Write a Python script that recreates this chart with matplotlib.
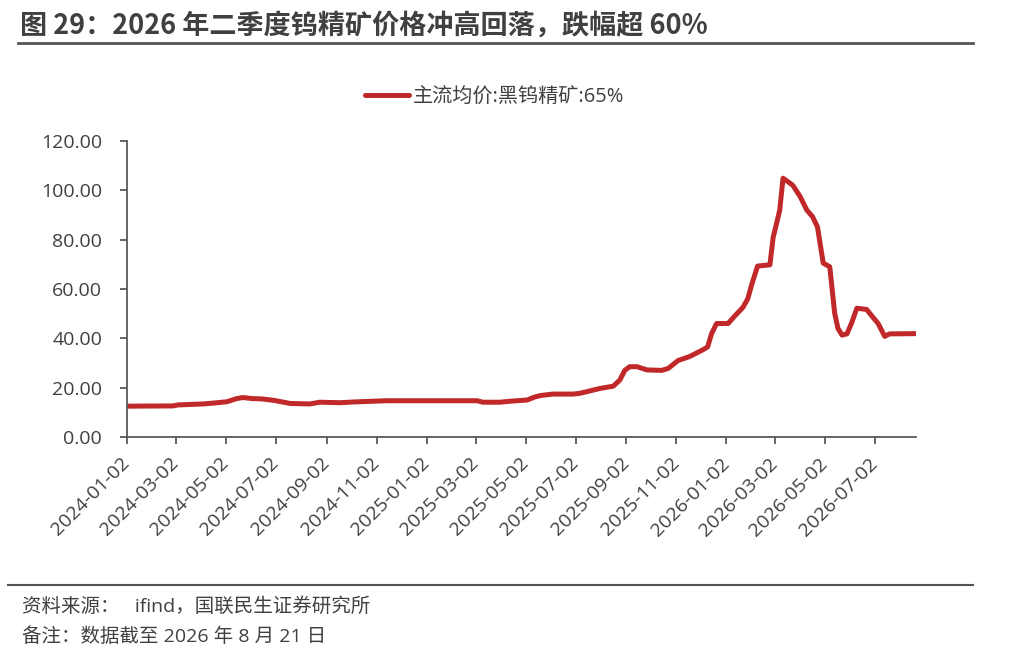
import numpy as np
import pandas as pd
import matplotlib
matplotlib.use('Agg')
import matplotlib.pyplot as plt
from matplotlib.lines import Line2D

plt.rcParams['font.family'] = ['Open Sans', 'Noto Sans CJK SC', 'DejaVu Sans']

title = '图 29：2026 年二季度钨精矿价格冲高回落，跌幅超 60%'
series_name = '主流均价:黑钨精矿:65%'
source = '资料来源：   ifind，国联民生证券研究所'
note = '备注：数据截至 2026 年 8 月 21 日'

dates = ['2024-01-02', '2024-02-27', '2024-03-04', '2024-04-04', '2024-04-18',
         '2024-05-03', '2024-05-14', '2024-05-22', '2024-06-02', '2024-06-16',
         '2024-06-30', '2024-07-19', '2024-08-12', '2024-08-24', '2024-09-18',
         '2024-10-04', '2024-11-13', '2025-03-04', '2025-03-11', '2025-04-01',
         '2025-04-13', '2025-05-04', '2025-05-13', '2025-05-20', '2025-06-04',
         '2025-06-29', '2025-07-07', '2025-07-16', '2025-08-01', '2025-08-17',
         '2025-08-25', '2025-08-31', '2025-09-06', '2025-09-15', '2025-09-27',
         '2025-10-15', '2025-10-23', '2025-11-04', '2025-11-18', '2025-12-04',
         '2025-12-10', '2025-12-15', '2025-12-21', '2026-01-04', '2026-01-12',
         '2026-01-22', '2026-01-28', '2026-02-02', '2026-02-09', '2026-02-24',
         '2026-02-28', '2026-03-03', '2026-03-08', '2026-03-12', '2026-03-18',
         '2026-03-24', '2026-04-02', '2026-04-10', '2026-04-17', '2026-04-23',
         '2026-04-30', '2026-05-08', '2026-05-14', '2026-05-18', '2026-05-23',
         '2026-05-29', '2026-06-04', '2026-06-10', '2026-06-22', '2026-06-29',
         '2026-07-06', '2026-07-14', '2026-07-20', '2026-08-21']
prices = [12.5, 12.6, 13.0, 13.4, 13.8,
          14.3, 15.5, 16.0, 15.6, 15.4,
          14.8, 13.6, 13.4, 14.1, 13.9,
          14.2, 14.7, 14.7, 14.1, 14.1,
          14.5, 15.0, 16.2, 16.8, 17.4,
          17.4, 17.7, 18.4, 19.7, 20.6,
          23.1, 27.0, 28.5, 28.5, 27.2,
          27.0, 27.8, 31.0, 32.6, 35.3,
          36.5, 42.0, 46.0, 46.0, 49.0,
          52.5, 56.0, 62.0, 69.3, 69.8,
          81.0, 85.0, 92.0, 104.9, 103.5,
          102.0, 97.4, 92.0, 89.3, 85.2,
          70.5, 69.0, 50.2, 44.0, 41.3,
          41.8, 46.5, 52.2, 51.7, 48.8,
          46.0, 40.8, 41.8, 41.9]

tick_dates = ['2024-01-02', '2024-03-02', '2024-05-02', '2024-07-02', '2024-09-02',
              '2024-11-02', '2025-01-02', '2025-03-02', '2025-05-02', '2025-07-02',
              '2025-09-02', '2025-11-02', '2026-01-02', '2026-03-02', '2026-05-02',
              '2026-07-02']

x = pd.to_datetime(dates)
red = '#C0282A'
grey = '#404040'

fig = plt.figure(figsize=(10.12, 6.72), dpi=100)
ax = fig.add_axes([0.1255, 0.3497, 0.7795, 0.4405])

ax.plot(x, prices, color=red, linewidth=3.6, solid_joinstyle='round')
ax.set_ylim(0, 120)
ax.set_yticks(np.arange(0, 121, 20))
ax.yaxis.set_major_formatter(matplotlib.ticker.FormatStrFormatter('%.2f'))
ax.set_xlim(pd.Timestamp('2024-01-02'), pd.Timestamp('2026-08-21'))
ax.set_xticks(pd.to_datetime(tick_dates))
ax.set_xticklabels(tick_dates, rotation=45, ha='right', va='center',
                   rotation_mode='anchor')

for s in ['top', 'right']:
    ax.spines[s].set_visible(False)
for s in ['left', 'bottom']:
    ax.spines[s].set_color('#595959')
    ax.spines[s].set_linewidth(1.3)
ax.tick_params(axis='both', colors='#595959', labelcolor=grey, labelsize=14,
               length=5, width=1.3, direction='out')
ax.tick_params(axis='y', pad=13)
ax.tick_params(axis='x', pad=12)

handle = Line2D([], [], color=red, linewidth=3.6, solid_capstyle='round')
ax.legend([handle], [series_name], loc='center', bbox_to_anchor=(0.466, 1.149),
          frameon=False, fontsize=14.5, handlelength=2.2, handletextpad=0.2,
          labelcolor=grey)

fig.text(0.02, 0.962, title, fontsize=19.5, fontweight='bold', color=grey,
         va='center', family=['Noto Sans CJK SC', 'DejaVu Sans'])
fig.add_artist(Line2D([0.018, 0.961], [0.936, 0.936], color='#555555', linewidth=2))
fig.add_artist(Line2D([0.008, 0.961], [0.129, 0.129], color='#555555', linewidth=1.5))
fig.text(0.022, 0.097, source, fontsize=14, color=grey, va='center')
fig.text(0.022, 0.053, note, fontsize=14, color=grey, va='center')

plt.savefig('out.png', dpi=100)
